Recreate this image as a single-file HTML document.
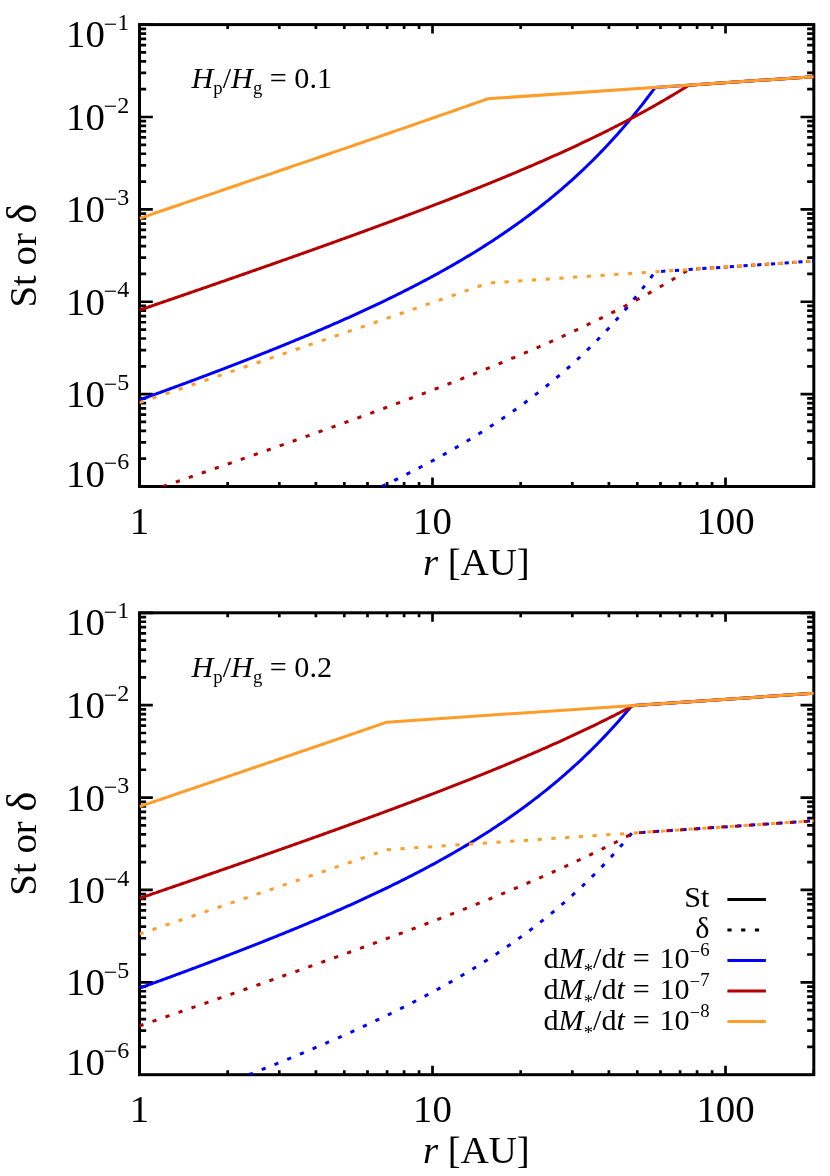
<!DOCTYPE html><html><head><meta charset="utf-8"><style>html,body{margin:0;padding:0;background:#fff}svg{display:block;will-change:transform}text{font-family:"Liberation Serif",serif;fill:#000}</style></head><body>
<svg width="830" height="1176" viewBox="0 0 830 1176">
<rect width="100%" height="100%" fill="#fff"/>
<rect x="139.50" y="24.60" width="674.30" height="461.90" fill="none" stroke="#000" stroke-width="3.00"/>
<path d="M227.70 486.50 L227.70 482.00 M227.70 24.60 L227.70 29.10 M279.30 486.50 L279.30 482.00 M279.30 24.60 L279.30 29.10 M315.90 486.50 L315.90 482.00 M315.90 24.60 L315.90 29.10 M344.30 486.50 L344.30 482.00 M344.30 24.60 L344.30 29.10 M367.50 486.50 L367.50 482.00 M367.50 24.60 L367.50 29.10 M387.11 486.50 L387.11 482.00 M387.11 24.60 L387.11 29.10 M404.11 486.50 L404.11 482.00 M404.11 24.60 L404.11 29.10 M419.09 486.50 L419.09 482.00 M419.09 24.60 L419.09 29.10 M432.50 486.50 L432.50 477.50 M432.50 24.60 L432.50 33.60 M520.70 486.50 L520.70 482.00 M520.70 24.60 L520.70 29.10 M572.30 486.50 L572.30 482.00 M572.30 24.60 L572.30 29.10 M608.90 486.50 L608.90 482.00 M608.90 24.60 L608.90 29.10 M637.30 486.50 L637.30 482.00 M637.30 24.60 L637.30 29.10 M660.50 486.50 L660.50 482.00 M660.50 24.60 L660.50 29.10 M680.11 486.50 L680.11 482.00 M680.11 24.60 L680.11 29.10 M697.11 486.50 L697.11 482.00 M697.11 24.60 L697.11 29.10 M712.09 486.50 L712.09 482.00 M712.09 24.60 L712.09 29.10 M725.50 486.50 L725.50 477.50 M725.50 24.60 L725.50 33.60 M813.70 486.50 L813.70 482.00 M813.70 24.60 L813.70 29.10 M139.50 458.69 L146.15 458.69 M813.80 458.69 L807.15 458.69 M139.50 442.42 L146.15 442.42 M813.80 442.42 L807.15 442.42 M139.50 430.88 L146.15 430.88 M813.80 430.88 L807.15 430.88 M139.50 421.93 L146.15 421.93 M813.80 421.93 L807.15 421.93 M139.50 414.61 L146.15 414.61 M813.80 414.61 L807.15 414.61 M139.50 408.43 L146.15 408.43 M813.80 408.43 L807.15 408.43 M139.50 403.07 L146.15 403.07 M813.80 403.07 L807.15 403.07 M139.50 398.35 L146.15 398.35 M813.80 398.35 L807.15 398.35 M139.50 394.12 L152.80 394.12 M813.80 394.12 L800.50 394.12 M139.50 366.31 L146.15 366.31 M813.80 366.31 L807.15 366.31 M139.50 350.04 L146.15 350.04 M813.80 350.04 L807.15 350.04 M139.50 338.50 L146.15 338.50 M813.80 338.50 L807.15 338.50 M139.50 329.55 L146.15 329.55 M813.80 329.55 L807.15 329.55 M139.50 322.23 L146.15 322.23 M813.80 322.23 L807.15 322.23 M139.50 316.05 L146.15 316.05 M813.80 316.05 L807.15 316.05 M139.50 310.69 L146.15 310.69 M813.80 310.69 L807.15 310.69 M139.50 305.97 L146.15 305.97 M813.80 305.97 L807.15 305.97 M139.50 301.74 L152.80 301.74 M813.80 301.74 L800.50 301.74 M139.50 273.93 L146.15 273.93 M813.80 273.93 L807.15 273.93 M139.50 257.66 L146.15 257.66 M813.80 257.66 L807.15 257.66 M139.50 246.12 L146.15 246.12 M813.80 246.12 L807.15 246.12 M139.50 237.17 L146.15 237.17 M813.80 237.17 L807.15 237.17 M139.50 229.85 L146.15 229.85 M813.80 229.85 L807.15 229.85 M139.50 223.67 L146.15 223.67 M813.80 223.67 L807.15 223.67 M139.50 218.31 L146.15 218.31 M813.80 218.31 L807.15 218.31 M139.50 213.59 L146.15 213.59 M813.80 213.59 L807.15 213.59 M139.50 209.36 L152.80 209.36 M813.80 209.36 L800.50 209.36 M139.50 181.55 L146.15 181.55 M813.80 181.55 L807.15 181.55 M139.50 165.28 L146.15 165.28 M813.80 165.28 L807.15 165.28 M139.50 153.74 L146.15 153.74 M813.80 153.74 L807.15 153.74 M139.50 144.79 L146.15 144.79 M813.80 144.79 L807.15 144.79 M139.50 137.47 L146.15 137.47 M813.80 137.47 L807.15 137.47 M139.50 131.29 L146.15 131.29 M813.80 131.29 L807.15 131.29 M139.50 125.93 L146.15 125.93 M813.80 125.93 L807.15 125.93 M139.50 121.21 L146.15 121.21 M813.80 121.21 L807.15 121.21 M139.50 116.98 L152.80 116.98 M813.80 116.98 L800.50 116.98 M139.50 89.17 L146.15 89.17 M813.80 89.17 L807.15 89.17 M139.50 72.90 L146.15 72.90 M813.80 72.90 L807.15 72.90 M139.50 61.36 L146.15 61.36 M813.80 61.36 L807.15 61.36 M139.50 52.41 L146.15 52.41 M813.80 52.41 L807.15 52.41 M139.50 45.09 L146.15 45.09 M813.80 45.09 L807.15 45.09 M139.50 38.91 L146.15 38.91 M813.80 38.91 L807.15 38.91 M139.50 33.55 L146.15 33.55 M813.80 33.55 L807.15 33.55 M139.50 28.83 L146.15 28.83 M813.80 28.83 L807.15 28.83 M139.50 24.60 L152.80 24.60 M813.80 24.60 L800.50 24.60" stroke="#000" stroke-width="2.70" fill="none"/>
<clipPath id="clip1"><rect x="139.50" y="24.60" width="674.30" height="461.90"/></clipPath>
<g clip-path="url(#clip1)" fill="none" stroke-width="3.00" stroke-linejoin="round">
<path d="M139.50 399.98 L141.12 399.39 L142.73 398.81 L144.35 398.22 L145.97 397.63 L147.58 397.05 L149.20 396.46 L150.81 395.87 L152.43 395.28 L154.05 394.69 L155.66 394.10 L157.28 393.51 L158.90 392.92 L160.51 392.33 L162.13 391.74 L163.75 391.15 L165.36 390.56 L166.98 389.96 L168.60 389.37 L170.21 388.78 L171.83 388.18 L173.44 387.59 L175.06 386.99 L176.68 386.39 L178.29 385.80 L179.91 385.20 L181.53 384.60 L183.14 384.00 L184.76 383.40 L186.38 382.80 L187.99 382.20 L189.61 381.60 L191.23 381.00 L192.84 380.39 L194.46 379.79 L196.07 379.18 L197.69 378.58 L199.31 377.97 L200.92 377.37 L202.54 376.76 L204.16 376.15 L205.77 375.54 L207.39 374.93 L209.01 374.32 L210.62 373.71 L212.24 373.10 L213.86 372.49 L215.47 371.88 L217.09 371.26 L218.70 370.65 L220.32 370.03 L221.94 369.42 L223.55 368.80 L225.17 368.18 L226.79 367.56 L228.40 366.94 L230.02 366.32 L231.64 365.70 L233.25 365.08 L234.87 364.45 L236.49 363.83 L238.10 363.20 L239.72 362.58 L241.33 361.95 L242.95 361.32 L244.57 360.69 L246.18 360.06 L247.80 359.43 L249.42 358.80 L251.03 358.17 L252.65 357.53 L254.27 356.90 L255.88 356.26 L257.50 355.62 L259.12 354.99 L260.73 354.35 L262.35 353.71 L263.96 353.06 L265.58 352.42 L267.20 351.78 L268.81 351.13 L270.43 350.49 L272.05 349.84 L273.66 349.19 L275.28 348.54 L276.90 347.89 L278.51 347.24 L280.13 346.58 L281.75 345.93 L283.36 345.27 L284.98 344.61 L286.59 343.95 L288.21 343.29 L289.83 342.63 L291.44 341.97 L293.06 341.31 L294.68 340.64 L296.29 339.97 L297.91 339.30 L299.53 338.63 L301.14 337.96 L302.76 337.29 L304.38 336.62 L305.99 335.94 L307.61 335.26 L309.22 334.58 L310.84 333.90 L312.46 333.22 L314.07 332.54 L315.69 331.85 L317.31 331.16 L318.92 330.47 L320.54 329.78 L322.16 329.09 L323.77 328.40 L325.39 327.70 L327.01 327.00 L328.62 326.30 L330.24 325.60 L331.85 324.90 L333.47 324.20 L335.09 323.49 L336.70 322.78 L338.32 322.07 L339.94 321.36 L341.55 320.64 L343.17 319.93 L344.79 319.21 L346.40 318.49 L348.02 317.76 L349.64 317.04 L351.25 316.31 L352.87 315.58 L354.48 314.85 L356.10 314.12 L357.72 313.38 L359.33 312.65 L360.95 311.91 L362.57 311.16 L364.18 310.42 L365.80 309.67 L367.42 308.92 L369.03 308.17 L370.65 307.42 L372.27 306.66 L373.88 305.90 L375.50 305.14 L377.11 304.37 L378.73 303.61 L380.35 302.84 L381.96 302.06 L383.58 301.29 L385.20 300.51 L386.81 299.73 L388.43 298.95 L390.05 298.16 L391.66 297.37 L393.28 296.58 L394.90 295.79 L396.51 294.99 L398.13 294.19 L399.74 293.38 L401.36 292.58 L402.98 291.77 L404.59 290.95 L406.21 290.14 L407.83 289.32 L409.44 288.50 L411.06 287.67 L412.68 286.84 L414.29 286.01 L415.91 285.17 L417.53 284.33 L419.14 283.49 L420.76 282.64 L422.37 281.79 L423.99 280.94 L425.61 280.08 L427.22 279.22 L428.84 278.36 L430.46 277.49 L432.07 276.62 L433.69 275.74 L435.31 274.86 L436.92 273.98 L438.54 273.09 L440.16 272.20 L441.77 271.30 L443.39 270.40 L445.00 269.50 L446.62 268.59 L448.24 267.68 L449.85 266.76 L451.47 265.84 L453.09 264.91 L454.70 263.98 L456.32 263.04 L457.94 262.10 L459.55 261.16 L461.17 260.21 L462.79 259.26 L464.40 258.30 L466.02 257.33 L467.63 256.36 L469.25 255.39 L470.87 254.41 L472.48 253.43 L474.10 252.44 L475.72 251.44 L477.33 250.44 L478.95 249.44 L480.57 248.43 L482.18 247.41 L483.80 246.39 L485.42 245.36 L487.03 244.33 L488.65 243.29 L490.26 242.25 L491.88 241.20 L493.50 240.14 L495.11 239.08 L496.73 238.01 L498.35 236.93 L499.96 235.85 L501.58 234.76 L503.20 233.67 L504.81 232.57 L506.43 231.46 L508.05 230.35 L509.66 229.23 L511.28 228.10 L512.89 226.97 L514.51 225.82 L516.13 224.68 L517.74 223.52 L519.36 222.36 L520.98 221.19 L522.59 220.01 L524.21 218.83 L525.83 217.63 L527.44 216.43 L529.06 215.22 L530.68 214.01 L532.29 212.79 L533.91 211.55 L535.52 210.31 L537.14 209.07 L538.76 207.81 L540.37 206.54 L541.99 205.27 L543.61 203.99 L545.22 202.70 L546.84 201.40 L548.46 200.09 L550.07 198.77 L551.69 197.45 L553.31 196.11 L554.92 194.76 L556.54 193.41 L558.15 192.04 L559.77 190.67 L561.39 189.29 L563.00 187.89 L564.62 186.49 L566.24 185.07 L567.85 183.65 L569.47 182.21 L571.09 180.77 L572.70 179.31 L574.32 177.85 L575.94 176.37 L577.55 174.88 L579.17 173.38 L580.78 171.87 L582.40 170.34 L584.02 168.81 L585.63 167.26 L587.25 165.71 L588.87 164.14 L590.48 162.55 L592.10 160.96 L593.72 159.35 L595.33 157.73 L596.95 156.10 L598.57 154.46 L600.18 152.80 L601.80 151.13 L603.41 149.44 L605.03 147.74 L606.65 146.03 L608.26 144.30 L609.88 142.56 L611.50 140.81 L613.11 139.04 L614.73 137.26 L616.35 135.46 L617.96 133.65 L619.58 131.82 L621.20 129.98 L622.81 128.12 L624.43 126.25 L626.04 124.36 L627.66 122.45 L629.28 120.53 L630.89 118.60 L632.51 116.64 L634.13 114.67 L635.74 112.68 L637.36 110.68 L638.98 108.66 L640.59 106.62 L642.21 104.56 L643.83 102.48 L645.44 100.39 L647.06 98.28 L648.67 96.15 L650.29 94.00 L651.91 91.83 L653.52 89.64 L655.14 87.44 L813.70 76.72" stroke="#0000ff"/>
<path d="M139.50 310.16 L141.14 309.60 L142.77 309.04 L144.41 308.47 L146.04 307.91 L147.68 307.35 L149.31 306.79 L150.95 306.23 L152.58 305.67 L154.22 305.10 L155.85 304.54 L157.49 303.98 L159.12 303.42 L160.76 302.85 L162.39 302.29 L164.03 301.73 L165.66 301.17 L167.30 300.60 L168.93 300.04 L170.57 299.48 L172.21 298.91 L173.84 298.35 L175.48 297.79 L177.11 297.22 L178.75 296.66 L180.38 296.09 L182.02 295.53 L183.65 294.97 L185.29 294.40 L186.92 293.84 L188.56 293.27 L190.19 292.71 L191.83 292.14 L193.46 291.58 L195.10 291.01 L196.73 290.45 L198.37 289.88 L200.00 289.31 L201.64 288.75 L203.28 288.18 L204.91 287.62 L206.55 287.05 L208.18 286.48 L209.82 285.92 L211.45 285.35 L213.09 284.78 L214.72 284.21 L216.36 283.65 L217.99 283.08 L219.63 282.51 L221.26 281.94 L222.90 281.37 L224.53 280.81 L226.17 280.24 L227.80 279.67 L229.44 279.10 L231.07 278.53 L232.71 277.96 L234.35 277.39 L235.98 276.82 L237.62 276.25 L239.25 275.68 L240.89 275.11 L242.52 274.54 L244.16 273.97 L245.79 273.40 L247.43 272.83 L249.06 272.25 L250.70 271.68 L252.33 271.11 L253.97 270.54 L255.60 269.97 L257.24 269.39 L258.87 268.82 L260.51 268.25 L262.14 267.67 L263.78 267.10 L265.42 266.53 L267.05 265.95 L268.69 265.38 L270.32 264.80 L271.96 264.23 L273.59 263.65 L275.23 263.08 L276.86 262.50 L278.50 261.92 L280.13 261.35 L281.77 260.77 L283.40 260.19 L285.04 259.62 L286.67 259.04 L288.31 258.46 L289.94 257.88 L291.58 257.30 L293.21 256.72 L294.85 256.14 L296.49 255.57 L298.12 254.99 L299.76 254.41 L301.39 253.82 L303.03 253.24 L304.66 252.66 L306.30 252.08 L307.93 251.50 L309.57 250.92 L311.20 250.33 L312.84 249.75 L314.47 249.17 L316.11 248.58 L317.74 248.00 L319.38 247.42 L321.01 246.83 L322.65 246.25 L324.28 245.66 L325.92 245.07 L327.56 244.49 L329.19 243.90 L330.83 243.31 L332.46 242.73 L334.10 242.14 L335.73 241.55 L337.37 240.96 L339.00 240.37 L340.64 239.78 L342.27 239.19 L343.91 238.60 L345.54 238.01 L347.18 237.42 L348.81 236.82 L350.45 236.23 L352.08 235.64 L353.72 235.04 L355.35 234.45 L356.99 233.86 L358.63 233.26 L360.26 232.66 L361.90 232.07 L363.53 231.47 L365.17 230.87 L366.80 230.28 L368.44 229.68 L370.07 229.08 L371.71 228.48 L373.34 227.88 L374.98 227.28 L376.61 226.68 L378.25 226.08 L379.88 225.47 L381.52 224.87 L383.15 224.27 L384.79 223.66 L386.42 223.06 L388.06 222.45 L389.70 221.85 L391.33 221.24 L392.97 220.63 L394.60 220.03 L396.24 219.42 L397.87 218.81 L399.51 218.20 L401.14 217.59 L402.78 216.98 L404.41 216.36 L406.05 215.75 L407.68 215.14 L409.32 214.52 L410.95 213.91 L412.59 213.29 L414.22 212.68 L415.86 212.06 L417.49 211.44 L419.13 210.82 L420.77 210.20 L422.40 209.58 L424.04 208.96 L425.67 208.34 L427.31 207.72 L428.94 207.09 L430.58 206.47 L432.21 205.84 L433.85 205.22 L435.48 204.59 L437.12 203.96 L438.75 203.33 L440.39 202.70 L442.02 202.07 L443.66 201.44 L445.29 200.81 L446.93 200.17 L448.56 199.54 L450.20 198.90 L451.84 198.26 L453.47 197.63 L455.11 196.99 L456.74 196.35 L458.38 195.71 L460.01 195.06 L461.65 194.42 L463.28 193.78 L464.92 193.13 L466.55 192.49 L468.19 191.84 L469.82 191.19 L471.46 190.54 L473.09 189.89 L474.73 189.24 L476.36 188.58 L478.00 187.93 L479.63 187.27 L481.27 186.62 L482.91 185.96 L484.54 185.30 L486.18 184.64 L487.81 183.98 L489.45 183.31 L491.08 182.65 L492.72 181.98 L494.35 181.31 L495.99 180.65 L497.62 179.98 L499.26 179.30 L500.89 178.63 L502.53 177.96 L504.16 177.28 L505.80 176.60 L507.43 175.92 L509.07 175.24 L510.70 174.56 L512.34 173.88 L513.98 173.19 L515.61 172.51 L517.25 171.82 L518.88 171.13 L520.52 170.44 L522.15 169.74 L523.79 169.05 L525.42 168.35 L527.06 167.65 L528.69 166.95 L530.33 166.25 L531.96 165.55 L533.60 164.84 L535.23 164.13 L536.87 163.42 L538.50 162.71 L540.14 162.00 L541.77 161.28 L543.41 160.57 L545.05 159.85 L546.68 159.13 L548.32 158.40 L549.95 157.68 L551.59 156.95 L553.22 156.22 L554.86 155.49 L556.49 154.76 L558.13 154.02 L559.76 153.28 L561.40 152.54 L563.03 151.80 L564.67 151.06 L566.30 150.31 L567.94 149.56 L569.57 148.81 L571.21 148.06 L572.84 147.30 L574.48 146.54 L576.12 145.78 L577.75 145.02 L579.39 144.25 L581.02 143.48 L582.66 142.71 L584.29 141.93 L585.93 141.16 L587.56 140.38 L589.20 139.60 L590.83 138.81 L592.47 138.02 L594.10 137.23 L595.74 136.44 L597.37 135.64 L599.01 134.84 L600.64 134.04 L602.28 133.24 L603.91 132.43 L605.55 131.62 L607.19 130.80 L608.82 129.98 L610.46 129.16 L612.09 128.34 L613.73 127.51 L615.36 126.68 L617.00 125.85 L618.63 125.01 L620.27 124.17 L621.90 123.33 L623.54 122.48 L625.17 121.63 L626.81 120.77 L628.44 119.91 L630.08 119.05 L631.71 118.18 L633.35 117.32 L634.99 116.44 L636.62 115.56 L638.26 114.68 L639.89 113.80 L641.53 112.91 L643.16 112.02 L644.80 111.12 L646.43 110.22 L648.07 109.31 L649.70 108.40 L651.34 107.49 L652.97 106.57 L654.61 105.65 L656.24 104.72 L657.88 103.79 L659.51 102.85 L661.15 101.91 L662.78 100.96 L664.42 100.01 L666.06 99.06 L667.69 98.10 L669.33 97.13 L670.96 96.16 L672.60 95.19 L674.23 94.21 L675.87 93.22 L677.50 92.23 L679.14 91.24 L680.77 90.24 L682.41 89.23 L684.04 88.22 L685.68 87.20 L687.31 86.18 L688.95 85.15 L813.70 76.72" stroke="#b40000"/>
<path d="M139.50 218.34 L140.99 217.84 L142.48 217.33 L143.97 216.83 L145.46 216.32 L146.95 215.82 L148.44 215.31 L149.92 214.81 L151.41 214.30 L152.90 213.80 L154.39 213.29 L155.88 212.79 L157.37 212.28 L158.86 211.78 L160.35 211.27 L161.84 210.77 L163.33 210.26 L164.82 209.76 L166.31 209.25 L167.80 208.75 L169.28 208.24 L170.77 207.74 L172.26 207.23 L173.75 206.73 L175.24 206.22 L176.73 205.72 L178.22 205.21 L179.71 204.71 L181.20 204.20 L182.69 203.69 L184.18 203.19 L185.67 202.68 L187.16 202.18 L188.64 201.67 L190.13 201.17 L191.62 200.66 L193.11 200.16 L194.60 199.65 L196.09 199.14 L197.58 198.64 L199.07 198.13 L200.56 197.63 L202.05 197.12 L203.54 196.62 L205.03 196.11 L206.52 195.60 L208.00 195.10 L209.49 194.59 L210.98 194.09 L212.47 193.58 L213.96 193.07 L215.45 192.57 L216.94 192.06 L218.43 191.55 L219.92 191.05 L221.41 190.54 L222.90 190.04 L224.39 189.53 L225.88 189.02 L227.36 188.52 L228.85 188.01 L230.34 187.50 L231.83 187.00 L233.32 186.49 L234.81 185.98 L236.30 185.48 L237.79 184.97 L239.28 184.46 L240.77 183.96 L242.26 183.45 L243.75 182.94 L245.24 182.44 L246.72 181.93 L248.21 181.42 L249.70 180.92 L251.19 180.41 L252.68 179.90 L254.17 179.40 L255.66 178.89 L257.15 178.38 L258.64 177.87 L260.13 177.37 L261.62 176.86 L263.11 176.35 L264.60 175.84 L266.08 175.34 L267.57 174.83 L269.06 174.32 L270.55 173.81 L272.04 173.31 L273.53 172.80 L275.02 172.29 L276.51 171.78 L278.00 171.28 L279.49 170.77 L280.98 170.26 L282.47 169.75 L283.96 169.24 L285.44 168.73 L286.93 168.23 L288.42 167.72 L289.91 167.21 L291.40 166.70 L292.89 166.19 L294.38 165.68 L295.87 165.18 L297.36 164.67 L298.85 164.16 L300.34 163.65 L301.83 163.14 L303.32 162.63 L304.80 162.12 L306.29 161.61 L307.78 161.11 L309.27 160.60 L310.76 160.09 L312.25 159.58 L313.74 159.07 L315.23 158.56 L316.72 158.05 L318.21 157.54 L319.70 157.03 L321.19 156.52 L322.68 156.01 L324.16 155.50 L325.65 154.99 L327.14 154.48 L328.63 153.97 L330.12 153.46 L331.61 152.95 L333.10 152.44 L334.59 151.93 L336.08 151.42 L337.57 150.91 L339.06 150.40 L340.55 149.89 L342.04 149.38 L343.52 148.87 L345.01 148.36 L346.50 147.85 L347.99 147.33 L349.48 146.82 L350.97 146.31 L352.46 145.80 L353.95 145.29 L355.44 144.78 L356.93 144.27 L358.42 143.75 L359.91 143.24 L361.40 142.73 L362.88 142.22 L364.37 141.71 L365.86 141.19 L367.35 140.68 L368.84 140.17 L370.33 139.66 L371.82 139.14 L373.31 138.63 L374.80 138.12 L376.29 137.61 L377.78 137.09 L379.27 136.58 L380.76 136.07 L382.24 135.55 L383.73 135.04 L385.22 134.53 L386.71 134.01 L388.20 133.50 L389.69 132.98 L391.18 132.47 L392.67 131.96 L394.16 131.44 L395.65 130.93 L397.14 130.41 L398.63 129.90 L400.12 129.38 L401.60 128.87 L403.09 128.35 L404.58 127.84 L406.07 127.32 L407.56 126.81 L409.05 126.29 L410.54 125.78 L412.03 125.26 L413.52 124.75 L415.01 124.23 L416.50 123.71 L417.99 123.20 L419.48 122.68 L420.96 122.16 L422.45 121.65 L423.94 121.13 L425.43 120.61 L426.92 120.09 L428.41 119.58 L429.90 119.06 L431.39 118.54 L432.88 118.02 L434.37 117.51 L435.86 116.99 L437.35 116.47 L438.84 115.95 L440.32 115.43 L441.81 114.91 L443.30 114.39 L444.79 113.87 L446.28 113.35 L447.77 112.84 L449.26 112.32 L450.75 111.80 L452.24 111.28 L453.73 110.75 L455.22 110.23 L456.71 109.71 L458.20 109.19 L459.68 108.67 L461.17 108.15 L462.66 107.63 L464.15 107.11 L465.64 106.58 L467.13 106.06 L468.62 105.54 L470.11 105.02 L471.60 104.49 L473.09 103.97 L474.58 103.45 L476.07 102.93 L477.56 102.40 L479.04 101.88 L480.53 101.35 L482.02 100.83 L483.51 100.30 L485.00 99.78 L486.49 99.25 L487.98 98.73 L813.70 76.72" stroke="#ff9d2b"/>
<path d="M381.80 486.50 L381.96 486.42 L383.58 485.65 L385.20 484.87 L386.81 484.09 L388.43 483.30 L390.05 482.52 L391.66 481.73 L393.28 480.94 L394.90 480.14 L396.51 479.34 L398.13 478.54 L399.74 477.74 L401.36 476.93 L402.98 476.12 L404.59 475.31 L406.21 474.50 L407.83 473.68 L409.44 472.85 L411.06 472.03 L412.68 471.20 L414.29 470.37 L415.91 469.53 L417.53 468.69 L419.14 467.85 L420.76 467.00 L422.37 466.15 L423.99 465.30 L425.61 464.44 L427.22 463.58 L428.84 462.72 L430.46 461.85 L432.07 460.97 L433.69 460.10 L435.31 459.22 L436.92 458.33 L438.54 457.45 L440.16 456.55 L441.77 455.66 L443.39 454.76 L445.00 453.85 L446.62 452.95 L448.24 452.03 L449.85 451.11 L451.47 450.19 L453.09 449.27 L454.70 448.34 L456.32 447.40 L457.94 446.46 L459.55 445.52 L461.17 444.57 L462.79 443.61 L464.40 442.65 L466.02 441.69 L467.63 440.72 L469.25 439.75 L470.87 438.77 L472.48 437.78 L474.10 436.80 L475.72 435.80 L477.33 434.80 L478.95 433.80 L480.57 432.78 L482.18 431.77 L483.80 430.75 L485.42 429.72 L487.03 428.69 L488.65 427.65 L490.26 426.60 L491.88 425.55 L493.50 424.50 L495.11 423.43 L496.73 422.36 L498.35 421.29 L499.96 420.21 L501.58 419.12 L503.20 418.03 L504.81 416.93 L506.43 415.82 L508.05 414.70 L509.66 413.58 L511.28 412.46 L512.89 411.32 L514.51 410.18 L516.13 409.03 L517.74 407.88 L519.36 406.71 L520.98 405.54 L522.59 404.37 L524.21 403.18 L525.83 401.99 L527.44 400.79 L529.06 399.58 L530.68 398.37 L532.29 397.14 L533.91 395.91 L535.52 394.67 L537.14 393.42 L538.76 392.17 L540.37 390.90 L541.99 389.63 L543.61 388.35 L545.22 387.05 L546.84 385.76 L548.46 384.45 L550.07 383.13 L551.69 381.80 L553.31 380.47 L554.92 379.12 L556.54 377.77 L558.15 376.40 L559.77 375.03 L561.39 373.64 L563.00 372.25 L564.62 370.85 L566.24 369.43 L567.85 368.01 L569.47 366.57 L571.09 365.13 L572.70 363.67 L574.32 362.20 L575.94 360.73 L577.55 359.24 L579.17 357.74 L580.78 356.22 L582.40 354.70 L584.02 353.17 L585.63 351.62 L587.25 350.06 L588.87 348.49 L590.48 346.91 L592.10 345.32 L593.72 343.71 L595.33 342.09 L596.95 340.46 L598.57 338.81 L600.18 337.15 L601.80 335.48 L603.41 333.80 L605.03 332.10 L606.65 330.39 L608.26 328.66 L609.88 326.92 L611.50 325.17 L613.11 323.40 L614.73 321.62 L616.35 319.82 L617.96 318.01 L619.58 316.18 L621.20 314.34 L622.81 312.48 L624.43 310.61 L626.04 308.72 L627.66 306.81 L629.28 304.89 L630.89 302.95 L632.51 301.00 L634.13 299.03 L635.74 297.04 L637.36 295.03 L638.98 293.01 L640.59 290.97 L642.21 288.92 L643.83 286.84 L645.44 284.75 L647.06 282.63 L648.67 280.50 L650.29 278.36 L651.91 276.19 L653.52 274.00 L655.14 271.79 L813.70 261.08" stroke="#0000ff" stroke-dasharray="4.2 9.55"/>
<path d="M162.82 486.50 L164.03 486.09 L165.66 485.52 L167.30 484.96 L168.93 484.40 L170.57 483.83 L172.21 483.27 L173.84 482.71 L175.48 482.14 L177.11 481.58 L178.75 481.02 L180.38 480.45 L182.02 479.89 L183.65 479.32 L185.29 478.76 L186.92 478.19 L188.56 477.63 L190.19 477.06 L191.83 476.50 L193.46 475.93 L195.10 475.37 L196.73 474.80 L198.37 474.24 L200.00 473.67 L201.64 473.11 L203.28 472.54 L204.91 471.97 L206.55 471.41 L208.18 470.84 L209.82 470.27 L211.45 469.71 L213.09 469.14 L214.72 468.57 L216.36 468.00 L217.99 467.44 L219.63 466.87 L221.26 466.30 L222.90 465.73 L224.53 465.16 L226.17 464.59 L227.80 464.03 L229.44 463.46 L231.07 462.89 L232.71 462.32 L234.35 461.75 L235.98 461.18 L237.62 460.61 L239.25 460.04 L240.89 459.47 L242.52 458.90 L244.16 458.33 L245.79 457.75 L247.43 457.18 L249.06 456.61 L250.70 456.04 L252.33 455.47 L253.97 454.90 L255.60 454.32 L257.24 453.75 L258.87 453.18 L260.51 452.60 L262.14 452.03 L263.78 451.46 L265.42 450.88 L267.05 450.31 L268.69 449.73 L270.32 449.16 L271.96 448.58 L273.59 448.01 L275.23 447.43 L276.86 446.86 L278.50 446.28 L280.13 445.70 L281.77 445.13 L283.40 444.55 L285.04 443.97 L286.67 443.39 L288.31 442.82 L289.94 442.24 L291.58 441.66 L293.21 441.08 L294.85 440.50 L296.49 439.92 L298.12 439.34 L299.76 438.76 L301.39 438.18 L303.03 437.60 L304.66 437.02 L306.30 436.44 L307.93 435.86 L309.57 435.27 L311.20 434.69 L312.84 434.11 L314.47 433.52 L316.11 432.94 L317.74 432.36 L319.38 431.77 L321.01 431.19 L322.65 430.60 L324.28 430.02 L325.92 429.43 L327.56 428.84 L329.19 428.26 L330.83 427.67 L332.46 427.08 L334.10 426.49 L335.73 425.91 L337.37 425.32 L339.00 424.73 L340.64 424.14 L342.27 423.55 L343.91 422.96 L345.54 422.36 L347.18 421.77 L348.81 421.18 L350.45 420.59 L352.08 419.99 L353.72 419.40 L355.35 418.81 L356.99 418.21 L358.63 417.62 L360.26 417.02 L361.90 416.43 L363.53 415.83 L365.17 415.23 L366.80 414.63 L368.44 414.04 L370.07 413.44 L371.71 412.84 L373.34 412.24 L374.98 411.64 L376.61 411.04 L378.25 410.43 L379.88 409.83 L381.52 409.23 L383.15 408.63 L384.79 408.02 L386.42 407.42 L388.06 406.81 L389.70 406.20 L391.33 405.60 L392.97 404.99 L394.60 404.38 L396.24 403.77 L397.87 403.17 L399.51 402.56 L401.14 401.94 L402.78 401.33 L404.41 400.72 L406.05 400.11 L407.68 399.49 L409.32 398.88 L410.95 398.27 L412.59 397.65 L414.22 397.03 L415.86 396.42 L417.49 395.80 L419.13 395.18 L420.77 394.56 L422.40 393.94 L424.04 393.32 L425.67 392.70 L427.31 392.07 L428.94 391.45 L430.58 390.82 L432.21 390.20 L433.85 389.57 L435.48 388.94 L437.12 388.32 L438.75 387.69 L440.39 387.06 L442.02 386.43 L443.66 385.79 L445.29 385.16 L446.93 384.53 L448.56 383.89 L450.20 383.26 L451.84 382.62 L453.47 381.98 L455.11 381.34 L456.74 380.70 L458.38 380.06 L460.01 379.42 L461.65 378.78 L463.28 378.13 L464.92 377.49 L466.55 376.84 L468.19 376.20 L469.82 375.55 L471.46 374.90 L473.09 374.25 L474.73 373.59 L476.36 372.94 L478.00 372.29 L479.63 371.63 L481.27 370.97 L482.91 370.32 L484.54 369.66 L486.18 368.99 L487.81 368.33 L489.45 367.67 L491.08 367.00 L492.72 366.34 L494.35 365.67 L495.99 365.00 L497.62 364.33 L499.26 363.66 L500.89 362.99 L502.53 362.31 L504.16 361.64 L505.80 360.96 L507.43 360.28 L509.07 359.60 L510.70 358.92 L512.34 358.23 L513.98 357.55 L515.61 356.86 L517.25 356.17 L518.88 355.48 L520.52 354.79 L522.15 354.10 L523.79 353.40 L525.42 352.71 L527.06 352.01 L528.69 351.31 L530.33 350.61 L531.96 349.90 L533.60 349.20 L535.23 348.49 L536.87 347.78 L538.50 347.07 L540.14 346.36 L541.77 345.64 L543.41 344.92 L545.05 344.21 L546.68 343.48 L548.32 342.76 L549.95 342.04 L551.59 341.31 L553.22 340.58 L554.86 339.85 L556.49 339.12 L558.13 338.38 L559.76 337.64 L561.40 336.90 L563.03 336.16 L564.67 335.41 L566.30 334.67 L567.94 333.92 L569.57 333.17 L571.21 332.41 L572.84 331.66 L574.48 330.90 L576.12 330.14 L577.75 329.37 L579.39 328.61 L581.02 327.84 L582.66 327.07 L584.29 326.29 L585.93 325.51 L587.56 324.74 L589.20 323.95 L590.83 323.17 L592.47 322.38 L594.10 321.59 L595.74 320.80 L597.37 320.00 L599.01 319.20 L600.64 318.40 L602.28 317.59 L603.91 316.78 L605.55 315.97 L607.19 315.16 L608.82 314.34 L610.46 313.52 L612.09 312.70 L613.73 311.87 L615.36 311.04 L617.00 310.20 L618.63 309.37 L620.27 308.53 L621.90 307.68 L623.54 306.83 L625.17 305.98 L626.81 305.13 L628.44 304.27 L630.08 303.41 L631.71 302.54 L633.35 301.67 L634.99 300.80 L636.62 299.92 L638.26 299.04 L639.89 298.15 L641.53 297.27 L643.16 296.37 L644.80 295.48 L646.43 294.57 L648.07 293.67 L649.70 292.76 L651.34 291.84 L652.97 290.93 L654.61 290.00 L656.24 289.08 L657.88 288.14 L659.51 287.21 L661.15 286.27 L662.78 285.32 L664.42 284.37 L666.06 283.42 L667.69 282.46 L669.33 281.49 L670.96 280.52 L672.60 279.55 L674.23 278.57 L675.87 277.58 L677.50 276.59 L679.14 275.60 L680.77 274.59 L682.41 273.59 L684.04 272.58 L685.68 271.56 L687.31 270.54 L688.95 269.51 L813.70 261.08" stroke="#b40000" stroke-dasharray="4.2 9.55"/>
<path d="M139.50 402.70 L140.99 402.20 L142.48 401.69 L143.97 401.19 L145.46 400.68 L146.95 400.18 L148.44 399.67 L149.92 399.17 L151.41 398.66 L152.90 398.16 L154.39 397.65 L155.88 397.15 L157.37 396.64 L158.86 396.14 L160.35 395.63 L161.84 395.13 L163.33 394.62 L164.82 394.12 L166.31 393.61 L167.80 393.11 L169.28 392.60 L170.77 392.09 L172.26 391.59 L173.75 391.08 L175.24 390.58 L176.73 390.07 L178.22 389.57 L179.71 389.06 L181.20 388.56 L182.69 388.05 L184.18 387.55 L185.67 387.04 L187.16 386.53 L188.64 386.03 L190.13 385.52 L191.62 385.02 L193.11 384.51 L194.60 384.01 L196.09 383.50 L197.58 383.00 L199.07 382.49 L200.56 381.98 L202.05 381.48 L203.54 380.97 L205.03 380.47 L206.52 379.96 L208.00 379.45 L209.49 378.95 L210.98 378.44 L212.47 377.94 L213.96 377.43 L215.45 376.92 L216.94 376.42 L218.43 375.91 L219.92 375.41 L221.41 374.90 L222.90 374.39 L224.39 373.89 L225.88 373.38 L227.36 372.87 L228.85 372.37 L230.34 371.86 L231.83 371.35 L233.32 370.85 L234.81 370.34 L236.30 369.83 L237.79 369.33 L239.28 368.82 L240.77 368.31 L242.26 367.81 L243.75 367.30 L245.24 366.79 L246.72 366.29 L248.21 365.78 L249.70 365.27 L251.19 364.77 L252.68 364.26 L254.17 363.75 L255.66 363.24 L257.15 362.74 L258.64 362.23 L260.13 361.72 L261.62 361.22 L263.11 360.71 L264.60 360.20 L266.08 359.69 L267.57 359.19 L269.06 358.68 L270.55 358.17 L272.04 357.66 L273.53 357.16 L275.02 356.65 L276.51 356.14 L278.00 355.63 L279.49 355.12 L280.98 354.62 L282.47 354.11 L283.96 353.60 L285.44 353.09 L286.93 352.58 L288.42 352.08 L289.91 351.57 L291.40 351.06 L292.89 350.55 L294.38 350.04 L295.87 349.53 L297.36 349.02 L298.85 348.52 L300.34 348.01 L301.83 347.50 L303.32 346.99 L304.80 346.48 L306.29 345.97 L307.78 345.46 L309.27 344.95 L310.76 344.44 L312.25 343.94 L313.74 343.43 L315.23 342.92 L316.72 342.41 L318.21 341.90 L319.70 341.39 L321.19 340.88 L322.68 340.37 L324.16 339.86 L325.65 339.35 L327.14 338.84 L328.63 338.33 L330.12 337.82 L331.61 337.31 L333.10 336.80 L334.59 336.29 L336.08 335.78 L337.57 335.27 L339.06 334.76 L340.55 334.25 L342.04 333.73 L343.52 333.22 L345.01 332.71 L346.50 332.20 L347.99 331.69 L349.48 331.18 L350.97 330.67 L352.46 330.16 L353.95 329.65 L355.44 329.13 L356.93 328.62 L358.42 328.11 L359.91 327.60 L361.40 327.09 L362.88 326.58 L364.37 326.06 L365.86 325.55 L367.35 325.04 L368.84 324.53 L370.33 324.01 L371.82 323.50 L373.31 322.99 L374.80 322.48 L376.29 321.96 L377.78 321.45 L379.27 320.94 L380.76 320.42 L382.24 319.91 L383.73 319.40 L385.22 318.88 L386.71 318.37 L388.20 317.86 L389.69 317.34 L391.18 316.83 L392.67 316.31 L394.16 315.80 L395.65 315.28 L397.14 314.77 L398.63 314.26 L400.12 313.74 L401.60 313.23 L403.09 312.71 L404.58 312.20 L406.07 311.68 L407.56 311.16 L409.05 310.65 L410.54 310.13 L412.03 309.62 L413.52 309.10 L415.01 308.59 L416.50 308.07 L417.99 307.55 L419.48 307.04 L420.96 306.52 L422.45 306.00 L423.94 305.49 L425.43 304.97 L426.92 304.45 L428.41 303.93 L429.90 303.42 L431.39 302.90 L432.88 302.38 L434.37 301.86 L435.86 301.34 L437.35 300.83 L438.84 300.31 L440.32 299.79 L441.81 299.27 L443.30 298.75 L444.79 298.23 L446.28 297.71 L447.77 297.19 L449.26 296.67 L450.75 296.15 L452.24 295.63 L453.73 295.11 L455.22 294.59 L456.71 294.07 L458.20 293.55 L459.68 293.03 L461.17 292.51 L462.66 291.99 L464.15 291.46 L465.64 290.94 L467.13 290.42 L468.62 289.90 L470.11 289.37 L471.60 288.85 L473.09 288.33 L474.58 287.81 L476.07 287.28 L477.56 286.76 L479.04 286.23 L480.53 285.71 L482.02 285.19 L483.51 284.66 L485.00 284.14 L486.49 283.61 L487.98 283.09 L813.70 261.08" stroke="#ff9d2b" stroke-dasharray="4.2 9.55"/>
</g>
<text x="66" y="47.00" font-size="38.80">10<tspan font-size="24.06" dx="-1" dy="-15.50">−</tspan><tspan font-size="24.06" dy="-1.8">1</tspan></text>
<text x="66" y="129.98" font-size="38.80">10<tspan font-size="24.06" dx="-1" dy="-15.50">−</tspan><tspan font-size="24.06" dy="-1.8">2</tspan></text>
<text x="66" y="222.36" font-size="38.80">10<tspan font-size="24.06" dx="-1" dy="-15.50">−</tspan><tspan font-size="24.06" dy="-1.8">3</tspan></text>
<text x="66" y="314.74" font-size="38.80">10<tspan font-size="24.06" dx="-1" dy="-15.50">−</tspan><tspan font-size="24.06" dy="-1.8">4</tspan></text>
<text x="66" y="407.12" font-size="38.80">10<tspan font-size="24.06" dx="-1" dy="-15.50">−</tspan><tspan font-size="24.06" dy="-1.8">5</tspan></text>
<text x="66" y="486.70" font-size="38.80">10<tspan font-size="24.06" dx="-1" dy="-15.50">−</tspan><tspan font-size="24.06" dy="-1.8">6</tspan></text>
<text x="139.50" y="533.70" font-size="38.80" text-anchor="middle">1</text>
<text x="432.50" y="533.70" font-size="38.80" text-anchor="middle">10</text>
<text x="725.50" y="533.70" font-size="38.80" text-anchor="middle">100</text>
<text x="476.05" y="574.70" font-size="38.80" text-anchor="middle"><tspan font-style="italic" dx="0.3">r</tspan><tspan dx="0"> [AU]</tspan></text>
<text transform="translate(36.40 255.55) rotate(-90)" font-size="38.80" text-anchor="middle">St or <tspan font-size="41.90">δ</tspan></text>
<text x="191.5" y="88.30" font-size="30.20"><tspan font-style="italic">H</tspan><tspan font-size="18.72" dy="6">p</tspan><tspan dy="-6">/</tspan><tspan font-style="italic">H</tspan><tspan font-size="18.72" dy="6">g</tspan><tspan dy="-6"> = 0.1</tspan></text>
<rect x="139.50" y="612.80" width="674.30" height="461.90" fill="none" stroke="#000" stroke-width="3.00"/>
<path d="M227.70 1074.70 L227.70 1070.20 M227.70 612.80 L227.70 617.30 M279.30 1074.70 L279.30 1070.20 M279.30 612.80 L279.30 617.30 M315.90 1074.70 L315.90 1070.20 M315.90 612.80 L315.90 617.30 M344.30 1074.70 L344.30 1070.20 M344.30 612.80 L344.30 617.30 M367.50 1074.70 L367.50 1070.20 M367.50 612.80 L367.50 617.30 M387.11 1074.70 L387.11 1070.20 M387.11 612.80 L387.11 617.30 M404.11 1074.70 L404.11 1070.20 M404.11 612.80 L404.11 617.30 M419.09 1074.70 L419.09 1070.20 M419.09 612.80 L419.09 617.30 M432.50 1074.70 L432.50 1065.70 M432.50 612.80 L432.50 621.80 M520.70 1074.70 L520.70 1070.20 M520.70 612.80 L520.70 617.30 M572.30 1074.70 L572.30 1070.20 M572.30 612.80 L572.30 617.30 M608.90 1074.70 L608.90 1070.20 M608.90 612.80 L608.90 617.30 M637.30 1074.70 L637.30 1070.20 M637.30 612.80 L637.30 617.30 M660.50 1074.70 L660.50 1070.20 M660.50 612.80 L660.50 617.30 M680.11 1074.70 L680.11 1070.20 M680.11 612.80 L680.11 617.30 M697.11 1074.70 L697.11 1070.20 M697.11 612.80 L697.11 617.30 M712.09 1074.70 L712.09 1070.20 M712.09 612.80 L712.09 617.30 M725.50 1074.70 L725.50 1065.70 M725.50 612.80 L725.50 621.80 M813.70 1074.70 L813.70 1070.20 M813.70 612.80 L813.70 617.30 M139.50 1046.89 L146.15 1046.89 M813.80 1046.89 L807.15 1046.89 M139.50 1030.62 L146.15 1030.62 M813.80 1030.62 L807.15 1030.62 M139.50 1019.08 L146.15 1019.08 M813.80 1019.08 L807.15 1019.08 M139.50 1010.13 L146.15 1010.13 M813.80 1010.13 L807.15 1010.13 M139.50 1002.81 L146.15 1002.81 M813.80 1002.81 L807.15 1002.81 M139.50 996.63 L146.15 996.63 M813.80 996.63 L807.15 996.63 M139.50 991.27 L146.15 991.27 M813.80 991.27 L807.15 991.27 M139.50 986.55 L146.15 986.55 M813.80 986.55 L807.15 986.55 M139.50 982.32 L152.80 982.32 M813.80 982.32 L800.50 982.32 M139.50 954.51 L146.15 954.51 M813.80 954.51 L807.15 954.51 M139.50 938.24 L146.15 938.24 M813.80 938.24 L807.15 938.24 M139.50 926.70 L146.15 926.70 M813.80 926.70 L807.15 926.70 M139.50 917.75 L146.15 917.75 M813.80 917.75 L807.15 917.75 M139.50 910.43 L146.15 910.43 M813.80 910.43 L807.15 910.43 M139.50 904.25 L146.15 904.25 M813.80 904.25 L807.15 904.25 M139.50 898.89 L146.15 898.89 M813.80 898.89 L807.15 898.89 M139.50 894.17 L146.15 894.17 M813.80 894.17 L807.15 894.17 M139.50 889.94 L152.80 889.94 M813.80 889.94 L800.50 889.94 M139.50 862.13 L146.15 862.13 M813.80 862.13 L807.15 862.13 M139.50 845.86 L146.15 845.86 M813.80 845.86 L807.15 845.86 M139.50 834.32 L146.15 834.32 M813.80 834.32 L807.15 834.32 M139.50 825.37 L146.15 825.37 M813.80 825.37 L807.15 825.37 M139.50 818.05 L146.15 818.05 M813.80 818.05 L807.15 818.05 M139.50 811.87 L146.15 811.87 M813.80 811.87 L807.15 811.87 M139.50 806.51 L146.15 806.51 M813.80 806.51 L807.15 806.51 M139.50 801.79 L146.15 801.79 M813.80 801.79 L807.15 801.79 M139.50 797.56 L152.80 797.56 M813.80 797.56 L800.50 797.56 M139.50 769.75 L146.15 769.75 M813.80 769.75 L807.15 769.75 M139.50 753.48 L146.15 753.48 M813.80 753.48 L807.15 753.48 M139.50 741.94 L146.15 741.94 M813.80 741.94 L807.15 741.94 M139.50 732.99 L146.15 732.99 M813.80 732.99 L807.15 732.99 M139.50 725.67 L146.15 725.67 M813.80 725.67 L807.15 725.67 M139.50 719.49 L146.15 719.49 M813.80 719.49 L807.15 719.49 M139.50 714.13 L146.15 714.13 M813.80 714.13 L807.15 714.13 M139.50 709.41 L146.15 709.41 M813.80 709.41 L807.15 709.41 M139.50 705.18 L152.80 705.18 M813.80 705.18 L800.50 705.18 M139.50 677.37 L146.15 677.37 M813.80 677.37 L807.15 677.37 M139.50 661.10 L146.15 661.10 M813.80 661.10 L807.15 661.10 M139.50 649.56 L146.15 649.56 M813.80 649.56 L807.15 649.56 M139.50 640.61 L146.15 640.61 M813.80 640.61 L807.15 640.61 M139.50 633.29 L146.15 633.29 M813.80 633.29 L807.15 633.29 M139.50 627.11 L146.15 627.11 M813.80 627.11 L807.15 627.11 M139.50 621.75 L146.15 621.75 M813.80 621.75 L807.15 621.75 M139.50 617.03 L146.15 617.03 M813.80 617.03 L807.15 617.03 M139.50 612.80 L152.80 612.80 M813.80 612.80 L800.50 612.80" stroke="#000" stroke-width="2.70" fill="none"/>
<clipPath id="clip2"><rect x="139.50" y="612.80" width="674.30" height="461.90"/></clipPath>
<g clip-path="url(#clip2)" fill="none" stroke-width="3.00" stroke-linejoin="round">
<path d="M139.50 988.18 L141.10 987.60 L142.71 987.02 L144.31 986.43 L145.92 985.85 L147.52 985.27 L149.12 984.69 L150.73 984.10 L152.33 983.52 L153.93 982.94 L155.54 982.35 L157.14 981.77 L158.75 981.18 L160.35 980.59 L161.95 980.01 L163.56 979.42 L165.16 978.83 L166.76 978.24 L168.37 977.65 L169.97 977.06 L171.58 976.47 L173.18 975.88 L174.78 975.29 L176.39 974.70 L177.99 974.11 L179.59 973.51 L181.20 972.92 L182.80 972.33 L184.41 971.73 L186.01 971.14 L187.61 970.54 L189.22 969.94 L190.82 969.35 L192.42 968.75 L194.03 968.15 L195.63 967.55 L197.24 966.95 L198.84 966.35 L200.44 965.75 L202.05 965.15 L203.65 964.54 L205.25 963.94 L206.86 963.33 L208.46 962.73 L210.07 962.12 L211.67 961.52 L213.27 960.91 L214.88 960.30 L216.48 959.69 L218.08 959.08 L219.69 958.47 L221.29 957.86 L222.90 957.25 L224.50 956.64 L226.10 956.02 L227.71 955.41 L229.31 954.79 L230.91 954.18 L232.52 953.56 L234.12 952.94 L235.73 952.32 L237.33 951.70 L238.93 951.08 L240.54 950.46 L242.14 949.84 L243.74 949.21 L245.35 948.59 L246.95 947.96 L248.56 947.34 L250.16 946.71 L251.76 946.08 L253.37 945.45 L254.97 944.82 L256.58 944.19 L258.18 943.56 L259.78 942.92 L261.39 942.29 L262.99 941.65 L264.59 941.01 L266.20 940.38 L267.80 939.74 L269.41 939.10 L271.01 938.45 L272.61 937.81 L274.22 937.17 L275.82 936.52 L277.42 935.88 L279.03 935.23 L280.63 934.58 L282.24 933.93 L283.84 933.28 L285.44 932.62 L287.05 931.97 L288.65 931.32 L290.25 930.66 L291.86 930.00 L293.46 929.34 L295.07 928.68 L296.67 928.02 L298.27 927.35 L299.88 926.69 L301.48 926.02 L303.08 925.35 L304.69 924.68 L306.29 924.01 L307.90 923.34 L309.50 922.67 L311.10 921.99 L312.71 921.31 L314.31 920.64 L315.91 919.96 L317.52 919.27 L319.12 918.59 L320.73 917.90 L322.33 917.22 L323.93 916.53 L325.54 915.84 L327.14 915.15 L328.74 914.45 L330.35 913.76 L331.95 913.06 L333.56 912.36 L335.16 911.66 L336.76 910.95 L338.37 910.25 L339.97 909.54 L341.57 908.83 L343.18 908.12 L344.78 907.41 L346.39 906.69 L347.99 905.98 L349.59 905.26 L351.20 904.54 L352.80 903.81 L354.40 903.09 L356.01 902.36 L357.61 901.63 L359.22 900.90 L360.82 900.17 L362.42 899.43 L364.03 898.69 L365.63 897.95 L367.24 897.21 L368.84 896.46 L370.44 895.71 L372.05 894.96 L373.65 894.21 L375.25 893.45 L376.86 892.69 L378.46 891.93 L380.07 891.17 L381.67 890.40 L383.27 889.64 L384.88 888.87 L386.48 888.09 L388.08 887.32 L389.69 886.54 L391.29 885.75 L392.90 884.97 L394.50 884.18 L396.10 883.39 L397.71 882.60 L399.31 881.80 L400.91 881.00 L402.52 880.20 L404.12 879.39 L405.73 878.58 L407.33 877.77 L408.93 876.96 L410.54 876.14 L412.14 875.32 L413.74 874.49 L415.35 873.66 L416.95 872.83 L418.56 872.00 L420.16 871.16 L421.76 870.32 L423.37 869.47 L424.97 868.62 L426.57 867.77 L428.18 866.91 L429.78 866.05 L431.39 865.19 L432.99 864.32 L434.59 863.45 L436.20 862.58 L437.80 861.70 L439.40 860.81 L441.01 859.93 L442.61 859.03 L444.22 858.14 L445.82 857.24 L447.42 856.34 L449.03 855.43 L450.63 854.52 L452.23 853.60 L453.84 852.68 L455.44 851.75 L457.05 850.82 L458.65 849.89 L460.25 848.95 L461.86 848.00 L463.46 847.06 L465.06 846.10 L466.67 845.14 L468.27 844.18 L469.88 843.21 L471.48 842.24 L473.08 841.26 L474.69 840.28 L476.29 839.29 L477.89 838.30 L479.50 837.30 L481.10 836.29 L482.71 835.28 L484.31 834.27 L485.91 833.25 L487.52 832.22 L489.12 831.19 L490.73 830.15 L492.33 829.10 L493.93 828.05 L495.54 827.00 L497.14 825.94 L498.74 824.87 L500.35 823.79 L501.95 822.71 L503.56 821.63 L505.16 820.53 L506.76 819.43 L508.37 818.33 L509.97 817.21 L511.57 816.09 L513.18 814.97 L514.78 813.83 L516.39 812.69 L517.99 811.54 L519.59 810.39 L521.20 809.23 L522.80 808.06 L524.40 806.88 L526.01 805.70 L527.61 804.51 L529.22 803.31 L530.82 802.10 L532.42 800.89 L534.03 799.66 L535.63 798.43 L537.23 797.19 L538.84 795.95 L540.44 794.69 L542.05 793.43 L543.65 792.16 L545.25 790.87 L546.86 789.58 L548.46 788.29 L550.06 786.98 L551.67 785.66 L553.27 784.34 L554.88 783.00 L556.48 781.66 L558.08 780.31 L559.69 778.94 L561.29 777.57 L562.89 776.19 L564.50 774.79 L566.10 773.39 L567.71 771.98 L569.31 770.56 L570.91 769.12 L572.52 767.68 L574.12 766.23 L575.72 764.76 L577.33 763.29 L578.93 761.80 L580.54 760.30 L582.14 758.79 L583.74 757.27 L585.35 755.74 L586.95 754.20 L588.55 752.64 L590.16 751.07 L591.76 749.49 L593.37 747.90 L594.97 746.30 L596.57 744.68 L598.18 743.05 L599.78 741.41 L601.39 739.75 L602.99 738.09 L604.59 736.40 L606.20 734.71 L607.80 733.00 L609.40 731.28 L611.01 729.54 L612.61 727.79 L614.22 726.03 L615.82 724.25 L617.42 722.46 L619.03 720.65 L620.63 718.83 L622.23 716.99 L623.84 715.14 L625.44 713.27 L627.05 711.38 L628.65 709.48 L630.25 707.57 L631.86 705.63 L813.70 693.35" stroke="#0000ff"/>
<path d="M139.50 898.36 L141.10 897.81 L142.71 897.26 L144.31 896.71 L145.91 896.16 L147.52 895.61 L149.12 895.06 L150.72 894.50 L152.33 893.95 L153.93 893.40 L155.53 892.85 L157.14 892.30 L158.74 891.75 L160.34 891.20 L161.95 890.65 L163.55 890.09 L165.15 889.54 L166.76 888.99 L168.36 888.44 L169.96 887.89 L171.57 887.33 L173.17 886.78 L174.77 886.23 L176.38 885.68 L177.98 885.12 L179.58 884.57 L181.19 884.02 L182.79 883.46 L184.39 882.91 L186.00 882.36 L187.60 881.80 L189.20 881.25 L190.81 880.70 L192.41 880.14 L194.01 879.59 L195.61 879.03 L197.22 878.48 L198.82 877.92 L200.42 877.37 L202.03 876.81 L203.63 876.26 L205.23 875.70 L206.84 875.15 L208.44 874.59 L210.04 874.04 L211.65 873.48 L213.25 872.92 L214.85 872.37 L216.46 871.81 L218.06 871.26 L219.66 870.70 L221.27 870.14 L222.87 869.58 L224.47 869.03 L226.08 868.47 L227.68 867.91 L229.28 867.35 L230.89 866.80 L232.49 866.24 L234.09 865.68 L235.70 865.12 L237.30 864.56 L238.90 864.00 L240.51 863.44 L242.11 862.88 L243.71 862.32 L245.32 861.76 L246.92 861.20 L248.52 860.64 L250.13 860.08 L251.73 859.52 L253.33 858.96 L254.94 858.40 L256.54 857.84 L258.14 857.28 L259.75 856.71 L261.35 856.15 L262.95 855.59 L264.56 855.03 L266.16 854.46 L267.76 853.90 L269.37 853.34 L270.97 852.77 L272.57 852.21 L274.18 851.65 L275.78 851.08 L277.38 850.52 L278.99 849.95 L280.59 849.39 L282.19 848.82 L283.80 848.25 L285.40 847.69 L287.00 847.12 L288.61 846.56 L290.21 845.99 L291.81 845.42 L293.42 844.85 L295.02 844.29 L296.62 843.72 L298.22 843.15 L299.83 842.58 L301.43 842.01 L303.03 841.44 L304.64 840.87 L306.24 840.30 L307.84 839.73 L309.45 839.16 L311.05 838.59 L312.65 838.02 L314.26 837.44 L315.86 836.87 L317.46 836.30 L319.07 835.73 L320.67 835.15 L322.27 834.58 L323.88 834.01 L325.48 833.43 L327.08 832.86 L328.69 832.28 L330.29 831.71 L331.89 831.13 L333.50 830.55 L335.10 829.98 L336.70 829.40 L338.31 828.82 L339.91 828.24 L341.51 827.66 L343.12 827.08 L344.72 826.51 L346.32 825.93 L347.93 825.35 L349.53 824.76 L351.13 824.18 L352.74 823.60 L354.34 823.02 L355.94 822.44 L357.55 821.85 L359.15 821.27 L360.75 820.69 L362.36 820.10 L363.96 819.52 L365.56 818.93 L367.17 818.34 L368.77 817.76 L370.37 817.17 L371.98 816.58 L373.58 815.99 L375.18 815.40 L376.79 814.82 L378.39 814.23 L379.99 813.63 L381.60 813.04 L383.20 812.45 L384.80 811.86 L386.41 811.27 L388.01 810.67 L389.61 810.08 L391.22 809.48 L392.82 808.89 L394.42 808.29 L396.03 807.70 L397.63 807.10 L399.23 806.50 L400.84 805.90 L402.44 805.30 L404.04 804.70 L405.64 804.10 L407.25 803.50 L408.85 802.90 L410.45 802.30 L412.06 801.69 L413.66 801.09 L415.26 800.48 L416.87 799.88 L418.47 799.27 L420.07 798.66 L421.68 798.06 L423.28 797.45 L424.88 796.84 L426.49 796.23 L428.09 795.62 L429.69 795.00 L431.30 794.39 L432.90 793.78 L434.50 793.16 L436.11 792.55 L437.71 791.93 L439.31 791.31 L440.92 790.70 L442.52 790.08 L444.12 789.46 L445.73 788.84 L447.33 788.22 L448.93 787.59 L450.54 786.97 L452.14 786.35 L453.74 785.72 L455.35 785.09 L456.95 784.47 L458.55 783.84 L460.16 783.21 L461.76 782.58 L463.36 781.95 L464.97 781.31 L466.57 780.68 L468.17 780.04 L469.78 779.41 L471.38 778.77 L472.98 778.13 L474.59 777.49 L476.19 776.85 L477.79 776.21 L479.40 775.57 L481.00 774.93 L482.60 774.28 L484.21 773.63 L485.81 772.99 L487.41 772.34 L489.02 771.69 L490.62 771.04 L492.22 770.38 L493.83 769.73 L495.43 769.07 L497.03 768.42 L498.64 767.76 L500.24 767.10 L501.84 766.44 L503.45 765.78 L505.05 765.11 L506.65 764.45 L508.25 763.78 L509.86 763.11 L511.46 762.44 L513.06 761.77 L514.67 761.10 L516.27 760.43 L517.87 759.75 L519.48 759.07 L521.08 758.40 L522.68 757.72 L524.29 757.03 L525.89 756.35 L527.49 755.67 L529.10 754.98 L530.70 754.29 L532.30 753.60 L533.91 752.91 L535.51 752.21 L537.11 751.52 L538.72 750.82 L540.32 750.12 L541.92 749.42 L543.53 748.72 L545.13 748.01 L546.73 747.30 L548.34 746.60 L549.94 745.88 L551.54 745.17 L553.15 744.46 L554.75 743.74 L556.35 743.02 L557.96 742.30 L559.56 741.58 L561.16 740.85 L562.77 740.12 L564.37 739.39 L565.97 738.66 L567.58 737.93 L569.18 737.19 L570.78 736.45 L572.39 735.71 L573.99 734.97 L575.59 734.22 L577.20 733.48 L578.80 732.72 L580.40 731.97 L582.01 731.22 L583.61 730.46 L585.21 729.70 L586.82 728.93 L588.42 728.17 L590.02 727.40 L591.63 726.63 L593.23 725.86 L594.83 725.08 L596.44 724.30 L598.04 723.52 L599.64 722.73 L601.25 721.95 L602.85 721.16 L604.45 720.36 L606.06 719.57 L607.66 718.77 L609.26 717.96 L610.87 717.16 L612.47 716.35 L614.07 715.54 L615.67 714.72 L617.28 713.90 L618.88 713.08 L620.48 712.26 L622.09 711.43 L623.69 710.60 L625.29 709.76 L626.90 708.92 L628.50 708.08 L630.10 707.24 L631.71 706.39 L633.31 705.54 L813.70 693.35" stroke="#b40000"/>
<path d="M139.50 806.54 L140.85 806.09 L142.20 805.63 L143.55 805.17 L144.90 804.71 L146.26 804.25 L147.61 803.80 L148.96 803.34 L150.31 802.88 L151.66 802.42 L153.01 801.96 L154.36 801.50 L155.71 801.05 L157.07 800.59 L158.42 800.13 L159.77 799.67 L161.12 799.21 L162.47 798.75 L163.82 798.30 L165.17 797.84 L166.52 797.38 L167.88 796.92 L169.23 796.46 L170.58 796.00 L171.93 795.55 L173.28 795.09 L174.63 794.63 L175.98 794.17 L177.33 793.71 L178.68 793.25 L180.04 792.79 L181.39 792.34 L182.74 791.88 L184.09 791.42 L185.44 790.96 L186.79 790.50 L188.14 790.04 L189.49 789.58 L190.85 789.13 L192.20 788.67 L193.55 788.21 L194.90 787.75 L196.25 787.29 L197.60 786.83 L198.95 786.37 L200.30 785.91 L201.66 785.45 L203.01 785.00 L204.36 784.54 L205.71 784.08 L207.06 783.62 L208.41 783.16 L209.76 782.70 L211.11 782.24 L212.47 781.78 L213.82 781.32 L215.17 780.86 L216.52 780.40 L217.87 779.94 L219.22 779.49 L220.57 779.03 L221.92 778.57 L223.27 778.11 L224.63 777.65 L225.98 777.19 L227.33 776.73 L228.68 776.27 L230.03 775.81 L231.38 775.35 L232.73 774.89 L234.08 774.43 L235.44 773.97 L236.79 773.51 L238.14 773.05 L239.49 772.59 L240.84 772.13 L242.19 771.67 L243.54 771.21 L244.89 770.75 L246.25 770.29 L247.60 769.83 L248.95 769.37 L250.30 768.91 L251.65 768.45 L253.00 767.99 L254.35 767.53 L255.70 767.07 L257.05 766.61 L258.41 766.15 L259.76 765.69 L261.11 765.23 L262.46 764.77 L263.81 764.31 L265.16 763.85 L266.51 763.39 L267.86 762.93 L269.22 762.47 L270.57 762.01 L271.92 761.55 L273.27 761.09 L274.62 760.63 L275.97 760.17 L277.32 759.71 L278.67 759.24 L280.03 758.78 L281.38 758.32 L282.73 757.86 L284.08 757.40 L285.43 756.94 L286.78 756.48 L288.13 756.02 L289.48 755.56 L290.84 755.10 L292.19 754.63 L293.54 754.17 L294.89 753.71 L296.24 753.25 L297.59 752.79 L298.94 752.33 L300.29 751.87 L301.64 751.40 L303.00 750.94 L304.35 750.48 L305.70 750.02 L307.05 749.56 L308.40 749.09 L309.75 748.63 L311.10 748.17 L312.45 747.71 L313.81 747.25 L315.16 746.78 L316.51 746.32 L317.86 745.86 L319.21 745.40 L320.56 744.94 L321.91 744.47 L323.26 744.01 L324.62 743.55 L325.97 743.08 L327.32 742.62 L328.67 742.16 L330.02 741.70 L331.37 741.23 L332.72 740.77 L334.07 740.31 L335.42 739.84 L336.78 739.38 L338.13 738.92 L339.48 738.46 L340.83 737.99 L342.18 737.53 L343.53 737.06 L344.88 736.60 L346.23 736.14 L347.59 735.67 L348.94 735.21 L350.29 734.75 L351.64 734.28 L352.99 733.82 L354.34 733.35 L355.69 732.89 L357.04 732.43 L358.40 731.96 L359.75 731.50 L361.10 731.03 L362.45 730.57 L363.80 730.10 L365.15 729.64 L366.50 729.17 L367.85 728.71 L369.21 728.24 L370.56 727.78 L371.91 727.31 L373.26 726.85 L374.61 726.38 L375.96 725.92 L377.31 725.45 L378.66 724.99 L380.01 724.52 L381.37 724.06 L382.72 723.59 L384.07 723.12 L385.42 722.66 L386.77 722.19 L813.70 693.35" stroke="#ff9d2b"/>
<path d="M248.92 1074.70 L250.16 1074.21 L251.76 1073.58 L253.37 1072.95 L254.97 1072.32 L256.58 1071.69 L258.18 1071.06 L259.78 1070.43 L261.39 1069.79 L262.99 1069.15 L264.59 1068.52 L266.20 1067.88 L267.80 1067.24 L269.41 1066.60 L271.01 1065.96 L272.61 1065.32 L274.22 1064.67 L275.82 1064.03 L277.42 1063.38 L279.03 1062.73 L280.63 1062.08 L282.24 1061.43 L283.84 1060.78 L285.44 1060.13 L287.05 1059.47 L288.65 1058.82 L290.25 1058.16 L291.86 1057.50 L293.46 1056.84 L295.07 1056.18 L296.67 1055.52 L298.27 1054.86 L299.88 1054.19 L301.48 1053.53 L303.08 1052.86 L304.69 1052.19 L306.29 1051.52 L307.90 1050.85 L309.50 1050.17 L311.10 1049.50 L312.71 1048.82 L314.31 1048.14 L315.91 1047.46 L317.52 1046.78 L319.12 1046.09 L320.73 1045.41 L322.33 1044.72 L323.93 1044.03 L325.54 1043.34 L327.14 1042.65 L328.74 1041.96 L330.35 1041.26 L331.95 1040.56 L333.56 1039.86 L335.16 1039.16 L336.76 1038.46 L338.37 1037.75 L339.97 1037.05 L341.57 1036.34 L343.18 1035.63 L344.78 1034.91 L346.39 1034.20 L347.99 1033.48 L349.59 1032.76 L351.20 1032.04 L352.80 1031.32 L354.40 1030.59 L356.01 1029.87 L357.61 1029.14 L359.22 1028.40 L360.82 1027.67 L362.42 1026.93 L364.03 1026.19 L365.63 1025.45 L367.24 1024.71 L368.84 1023.96 L370.44 1023.22 L372.05 1022.47 L373.65 1021.71 L375.25 1020.96 L376.86 1020.20 L378.46 1019.44 L380.07 1018.67 L381.67 1017.91 L383.27 1017.14 L384.88 1016.37 L386.48 1015.60 L388.08 1014.82 L389.69 1014.04 L391.29 1013.26 L392.90 1012.47 L394.50 1011.69 L396.10 1010.89 L397.71 1010.10 L399.31 1009.30 L400.91 1008.50 L402.52 1007.70 L404.12 1006.90 L405.73 1006.09 L407.33 1005.28 L408.93 1004.46 L410.54 1003.64 L412.14 1002.82 L413.74 1002.00 L415.35 1001.17 L416.95 1000.34 L418.56 999.50 L420.16 998.66 L421.76 997.82 L423.37 996.98 L424.97 996.13 L426.57 995.27 L428.18 994.42 L429.78 993.56 L431.39 992.69 L432.99 991.83 L434.59 990.95 L436.20 990.08 L437.80 989.20 L439.40 988.32 L441.01 987.43 L442.61 986.54 L444.22 985.64 L445.82 984.74 L447.42 983.84 L449.03 982.93 L450.63 982.02 L452.23 981.10 L453.84 980.18 L455.44 979.26 L457.05 978.33 L458.65 977.39 L460.25 976.45 L461.86 975.51 L463.46 974.56 L465.06 973.61 L466.67 972.65 L468.27 971.68 L469.88 970.72 L471.48 969.74 L473.08 968.77 L474.69 967.78 L476.29 966.79 L477.89 965.80 L479.50 964.80 L481.10 963.80 L482.71 962.79 L484.31 961.77 L485.91 960.75 L487.52 959.72 L489.12 958.69 L490.73 957.65 L492.33 956.61 L493.93 955.56 L495.54 954.50 L497.14 953.44 L498.74 952.37 L500.35 951.30 L501.95 950.22 L503.56 949.13 L505.16 948.04 L506.76 946.94 L508.37 945.83 L509.97 944.72 L511.57 943.60 L513.18 942.47 L514.78 941.34 L516.39 940.20 L517.99 939.05 L519.59 937.89 L521.20 936.73 L522.80 935.56 L524.40 934.39 L526.01 933.20 L527.61 932.01 L529.22 930.81 L530.82 929.60 L532.42 928.39 L534.03 927.17 L535.63 925.94 L537.23 924.70 L538.84 923.45 L540.44 922.19 L542.05 920.93 L543.65 919.66 L545.25 918.38 L546.86 917.09 L548.46 915.79 L550.06 914.48 L551.67 913.17 L553.27 911.84 L554.88 910.51 L556.48 909.16 L558.08 907.81 L559.69 906.45 L561.29 905.07 L562.89 903.69 L564.50 902.30 L566.10 900.90 L567.71 899.48 L569.31 898.06 L570.91 896.63 L572.52 895.18 L574.12 893.73 L575.72 892.27 L577.33 890.79 L578.93 889.30 L580.54 887.81 L582.14 886.30 L583.74 884.78 L585.35 883.24 L586.95 881.70 L588.55 880.14 L590.16 878.58 L591.76 877.00 L593.37 875.41 L594.97 873.80 L596.57 872.18 L598.18 870.56 L599.78 868.91 L601.39 867.26 L602.99 865.59 L604.59 863.91 L606.20 862.21 L607.80 860.51 L609.40 858.78 L611.01 857.05 L612.61 855.30 L614.22 853.53 L615.82 851.75 L617.42 849.96 L619.03 848.15 L620.63 846.33 L622.23 844.49 L623.84 842.64 L625.44 840.77 L627.05 838.89 L628.65 836.99 L630.25 835.07 L631.86 833.14 L813.70 820.85" stroke="#0000ff" stroke-dasharray="4.2 9.55"/>
<path d="M139.50 1025.86 L141.10 1025.31 L142.71 1024.76 L144.31 1024.21 L145.91 1023.66 L147.52 1023.11 L149.12 1022.56 L150.72 1022.01 L152.33 1021.46 L153.93 1020.91 L155.53 1020.36 L157.14 1019.80 L158.74 1019.25 L160.34 1018.70 L161.95 1018.15 L163.55 1017.60 L165.15 1017.05 L166.76 1016.49 L168.36 1015.94 L169.96 1015.39 L171.57 1014.84 L173.17 1014.29 L174.77 1013.73 L176.38 1013.18 L177.98 1012.63 L179.58 1012.07 L181.19 1011.52 L182.79 1010.97 L184.39 1010.41 L186.00 1009.86 L187.60 1009.31 L189.20 1008.75 L190.81 1008.20 L192.41 1007.65 L194.01 1007.09 L195.61 1006.54 L197.22 1005.98 L198.82 1005.43 L200.42 1004.87 L202.03 1004.32 L203.63 1003.76 L205.23 1003.21 L206.84 1002.65 L208.44 1002.10 L210.04 1001.54 L211.65 1000.98 L213.25 1000.43 L214.85 999.87 L216.46 999.32 L218.06 998.76 L219.66 998.20 L221.27 997.65 L222.87 997.09 L224.47 996.53 L226.08 995.97 L227.68 995.42 L229.28 994.86 L230.89 994.30 L232.49 993.74 L234.09 993.18 L235.70 992.62 L237.30 992.07 L238.90 991.51 L240.51 990.95 L242.11 990.39 L243.71 989.83 L245.32 989.27 L246.92 988.71 L248.52 988.15 L250.13 987.59 L251.73 987.03 L253.33 986.46 L254.94 985.90 L256.54 985.34 L258.14 984.78 L259.75 984.22 L261.35 983.66 L262.95 983.09 L264.56 982.53 L266.16 981.97 L267.76 981.40 L269.37 980.84 L270.97 980.28 L272.57 979.71 L274.18 979.15 L275.78 978.59 L277.38 978.02 L278.99 977.46 L280.59 976.89 L282.19 976.32 L283.80 975.76 L285.40 975.19 L287.00 974.63 L288.61 974.06 L290.21 973.49 L291.81 972.92 L293.42 972.36 L295.02 971.79 L296.62 971.22 L298.22 970.65 L299.83 970.08 L301.43 969.51 L303.03 968.94 L304.64 968.37 L306.24 967.80 L307.84 967.23 L309.45 966.66 L311.05 966.09 L312.65 965.52 L314.26 964.95 L315.86 964.38 L317.46 963.80 L319.07 963.23 L320.67 962.66 L322.27 962.08 L323.88 961.51 L325.48 960.94 L327.08 960.36 L328.69 959.78 L330.29 959.21 L331.89 958.63 L333.50 958.06 L335.10 957.48 L336.70 956.90 L338.31 956.32 L339.91 955.75 L341.51 955.17 L343.12 954.59 L344.72 954.01 L346.32 953.43 L347.93 952.85 L349.53 952.27 L351.13 951.69 L352.74 951.11 L354.34 950.52 L355.94 949.94 L357.55 949.36 L359.15 948.77 L360.75 948.19 L362.36 947.60 L363.96 947.02 L365.56 946.43 L367.17 945.85 L368.77 945.26 L370.37 944.67 L371.98 944.09 L373.58 943.50 L375.18 942.91 L376.79 942.32 L378.39 941.73 L379.99 941.14 L381.60 940.55 L383.20 939.96 L384.80 939.36 L386.41 938.77 L388.01 938.18 L389.61 937.58 L391.22 936.99 L392.82 936.39 L394.42 935.80 L396.03 935.20 L397.63 934.60 L399.23 934.00 L400.84 933.41 L402.44 932.81 L404.04 932.21 L405.64 931.61 L407.25 931.01 L408.85 930.40 L410.45 929.80 L412.06 929.20 L413.66 928.59 L415.26 927.99 L416.87 927.38 L418.47 926.78 L420.07 926.17 L421.68 925.56 L423.28 924.95 L424.88 924.34 L426.49 923.73 L428.09 923.12 L429.69 922.51 L431.30 921.90 L432.90 921.28 L434.50 920.67 L436.11 920.05 L437.71 919.44 L439.31 918.82 L440.92 918.20 L442.52 917.58 L444.12 916.96 L445.73 916.34 L447.33 915.72 L448.93 915.10 L450.54 914.47 L452.14 913.85 L453.74 913.22 L455.35 912.60 L456.95 911.97 L458.55 911.34 L460.16 910.71 L461.76 910.08 L463.36 909.45 L464.97 908.82 L466.57 908.18 L468.17 907.55 L469.78 906.91 L471.38 906.28 L472.98 905.64 L474.59 905.00 L476.19 904.36 L477.79 903.72 L479.40 903.07 L481.00 902.43 L482.60 901.78 L484.21 901.14 L485.81 900.49 L487.41 899.84 L489.02 899.19 L490.62 898.54 L492.22 897.89 L493.83 897.23 L495.43 896.58 L497.03 895.92 L498.64 895.26 L500.24 894.60 L501.84 893.94 L503.45 893.28 L505.05 892.62 L506.65 891.95 L508.25 891.29 L509.86 890.62 L511.46 889.95 L513.06 889.28 L514.67 888.61 L516.27 887.93 L517.87 887.26 L519.48 886.58 L521.08 885.90 L522.68 885.22 L524.29 884.54 L525.89 883.85 L527.49 883.17 L529.10 882.48 L530.70 881.79 L532.30 881.10 L533.91 880.41 L535.51 879.72 L537.11 879.02 L538.72 878.32 L540.32 877.62 L541.92 876.92 L543.53 876.22 L545.13 875.51 L546.73 874.81 L548.34 874.10 L549.94 873.39 L551.54 872.68 L553.15 871.96 L554.75 871.24 L556.35 870.52 L557.96 869.80 L559.56 869.08 L561.16 868.36 L562.77 867.63 L564.37 866.90 L565.97 866.17 L567.58 865.43 L569.18 864.70 L570.78 863.96 L572.39 863.22 L573.99 862.47 L575.59 861.73 L577.20 860.98 L578.80 860.23 L580.40 859.48 L582.01 858.72 L583.61 857.96 L585.21 857.20 L586.82 856.44 L588.42 855.67 L590.02 854.90 L591.63 854.13 L593.23 853.36 L594.83 852.58 L596.44 851.80 L598.04 851.02 L599.64 850.24 L601.25 849.45 L602.85 848.66 L604.45 847.87 L606.06 847.07 L607.66 846.27 L609.26 845.47 L610.87 844.66 L612.47 843.85 L614.07 843.04 L615.67 842.23 L617.28 841.41 L618.88 840.59 L620.48 839.76 L622.09 838.93 L623.69 838.10 L625.29 837.27 L626.90 836.43 L628.50 835.59 L630.10 834.74 L631.71 833.89 L633.31 833.04 L813.70 820.85" stroke="#b40000" stroke-dasharray="4.2 9.55"/>
<path d="M139.50 934.05 L140.85 933.59 L142.20 933.13 L143.55 932.67 L144.90 932.22 L146.26 931.76 L147.61 931.30 L148.96 930.84 L150.31 930.38 L151.66 929.92 L153.01 929.47 L154.36 929.01 L155.71 928.55 L157.07 928.09 L158.42 927.63 L159.77 927.18 L161.12 926.72 L162.47 926.26 L163.82 925.80 L165.17 925.34 L166.52 924.88 L167.88 924.43 L169.23 923.97 L170.58 923.51 L171.93 923.05 L173.28 922.59 L174.63 922.13 L175.98 921.67 L177.33 921.22 L178.68 920.76 L180.04 920.30 L181.39 919.84 L182.74 919.38 L184.09 918.92 L185.44 918.46 L186.79 918.01 L188.14 917.55 L189.49 917.09 L190.85 916.63 L192.20 916.17 L193.55 915.71 L194.90 915.25 L196.25 914.79 L197.60 914.34 L198.95 913.88 L200.30 913.42 L201.66 912.96 L203.01 912.50 L204.36 912.04 L205.71 911.58 L207.06 911.12 L208.41 910.66 L209.76 910.20 L211.11 909.74 L212.47 909.29 L213.82 908.83 L215.17 908.37 L216.52 907.91 L217.87 907.45 L219.22 906.99 L220.57 906.53 L221.92 906.07 L223.27 905.61 L224.63 905.15 L225.98 904.69 L227.33 904.23 L228.68 903.77 L230.03 903.31 L231.38 902.85 L232.73 902.40 L234.08 901.94 L235.44 901.48 L236.79 901.02 L238.14 900.56 L239.49 900.10 L240.84 899.64 L242.19 899.18 L243.54 898.72 L244.89 898.26 L246.25 897.80 L247.60 897.34 L248.95 896.88 L250.30 896.42 L251.65 895.96 L253.00 895.50 L254.35 895.04 L255.70 894.58 L257.05 894.12 L258.41 893.66 L259.76 893.20 L261.11 892.74 L262.46 892.28 L263.81 891.82 L265.16 891.36 L266.51 890.89 L267.86 890.43 L269.22 889.97 L270.57 889.51 L271.92 889.05 L273.27 888.59 L274.62 888.13 L275.97 887.67 L277.32 887.21 L278.67 886.75 L280.03 886.29 L281.38 885.83 L282.73 885.37 L284.08 884.90 L285.43 884.44 L286.78 883.98 L288.13 883.52 L289.48 883.06 L290.84 882.60 L292.19 882.14 L293.54 881.68 L294.89 881.22 L296.24 880.75 L297.59 880.29 L298.94 879.83 L300.29 879.37 L301.64 878.91 L303.00 878.45 L304.35 877.98 L305.70 877.52 L307.05 877.06 L308.40 876.60 L309.75 876.14 L311.10 875.67 L312.45 875.21 L313.81 874.75 L315.16 874.29 L316.51 873.83 L317.86 873.36 L319.21 872.90 L320.56 872.44 L321.91 871.98 L323.26 871.51 L324.62 871.05 L325.97 870.59 L327.32 870.13 L328.67 869.66 L330.02 869.20 L331.37 868.74 L332.72 868.27 L334.07 867.81 L335.42 867.35 L336.78 866.89 L338.13 866.42 L339.48 865.96 L340.83 865.50 L342.18 865.03 L343.53 864.57 L344.88 864.11 L346.23 863.64 L347.59 863.18 L348.94 862.71 L350.29 862.25 L351.64 861.79 L352.99 861.32 L354.34 860.86 L355.69 860.39 L357.04 859.93 L358.40 859.47 L359.75 859.00 L361.10 858.54 L362.45 858.07 L363.80 857.61 L365.15 857.14 L366.50 856.68 L367.85 856.21 L369.21 855.75 L370.56 855.28 L371.91 854.82 L373.26 854.35 L374.61 853.89 L375.96 853.42 L377.31 852.96 L378.66 852.49 L380.01 852.03 L381.37 851.56 L382.72 851.09 L384.07 850.63 L385.42 850.16 L386.77 849.70 L813.70 820.85" stroke="#ff9d2b" stroke-dasharray="4.2 9.55"/>
</g>
<text x="66" y="635.20" font-size="38.80">10<tspan font-size="24.06" dx="-1" dy="-15.50">−</tspan><tspan font-size="24.06" dy="-1.8">1</tspan></text>
<text x="66" y="718.18" font-size="38.80">10<tspan font-size="24.06" dx="-1" dy="-15.50">−</tspan><tspan font-size="24.06" dy="-1.8">2</tspan></text>
<text x="66" y="810.56" font-size="38.80">10<tspan font-size="24.06" dx="-1" dy="-15.50">−</tspan><tspan font-size="24.06" dy="-1.8">3</tspan></text>
<text x="66" y="902.94" font-size="38.80">10<tspan font-size="24.06" dx="-1" dy="-15.50">−</tspan><tspan font-size="24.06" dy="-1.8">4</tspan></text>
<text x="66" y="995.32" font-size="38.80">10<tspan font-size="24.06" dx="-1" dy="-15.50">−</tspan><tspan font-size="24.06" dy="-1.8">5</tspan></text>
<text x="66" y="1074.90" font-size="38.80">10<tspan font-size="24.06" dx="-1" dy="-15.50">−</tspan><tspan font-size="24.06" dy="-1.8">6</tspan></text>
<text x="139.50" y="1121.90" font-size="38.80" text-anchor="middle">1</text>
<text x="432.50" y="1121.90" font-size="38.80" text-anchor="middle">10</text>
<text x="725.50" y="1121.90" font-size="38.80" text-anchor="middle">100</text>
<text x="476.05" y="1162.90" font-size="38.80" text-anchor="middle"><tspan font-style="italic" dx="0.3">r</tspan><tspan dx="0"> [AU]</tspan></text>
<text transform="translate(36.40 843.75) rotate(-90)" font-size="38.80" text-anchor="middle">St or <tspan font-size="41.90">δ</tspan></text>
<text x="191.5" y="676.50" font-size="30.20"><tspan font-style="italic">H</tspan><tspan font-size="18.72" dy="6">p</tspan><tspan dy="-6">/</tspan><tspan font-style="italic">H</tspan><tspan font-size="18.72" dy="6">g</tspan><tspan dy="-6"> = 0.2</tspan></text>
<g stroke-width="3.00" fill="none">
<path d="M727.40 899.40 H765.90" stroke="#000"/>
<path d="M727.40 929.95 H765.90" stroke="#000" stroke-dasharray="4.2 9.55"/>
<path d="M727.40 960.50 H765.90" stroke="#0000ff"/>
<path d="M727.40 991.00 H765.90" stroke="#b40000"/>
<path d="M727.40 1021.50 H765.90" stroke="#ff9d2b"/>
</g>
<text x="709.50" y="907.00" font-size="30.20" text-anchor="end">St</text>
<text x="709.50" y="937.60" font-size="30.20" text-anchor="end">δ</text>
<text x="624.90" y="968.40" font-size="30.20" text-anchor="end">d<tspan font-style="italic">M</tspan><tspan font-size="18.72" dy="9">*</tspan><tspan dy="-9">/d</tspan><tspan font-style="italic">t</tspan></text>
<text x="641.30" y="968.40" font-size="30.20" text-anchor="middle">=</text>
<text x="709.50" y="968.40" font-size="30.20" text-anchor="end">10<tspan font-size="18.72" dy="-10.7">−</tspan><tspan font-size="18.72" dy="-2">6</tspan></text>
<text x="624.90" y="999.00" font-size="30.20" text-anchor="end">d<tspan font-style="italic">M</tspan><tspan font-size="18.72" dy="9">*</tspan><tspan dy="-9">/d</tspan><tspan font-style="italic">t</tspan></text>
<text x="641.30" y="999.00" font-size="30.20" text-anchor="middle">=</text>
<text x="709.50" y="999.00" font-size="30.20" text-anchor="end">10<tspan font-size="18.72" dy="-10.7">−</tspan><tspan font-size="18.72" dy="-2">7</tspan></text>
<text x="624.90" y="1029.60" font-size="30.20" text-anchor="end">d<tspan font-style="italic">M</tspan><tspan font-size="18.72" dy="9">*</tspan><tspan dy="-9">/d</tspan><tspan font-style="italic">t</tspan></text>
<text x="641.30" y="1029.60" font-size="30.20" text-anchor="middle">=</text>
<text x="709.50" y="1029.60" font-size="30.20" text-anchor="end">10<tspan font-size="18.72" dy="-10.7">−</tspan><tspan font-size="18.72" dy="-2">8</tspan></text>
</svg></body></html>
